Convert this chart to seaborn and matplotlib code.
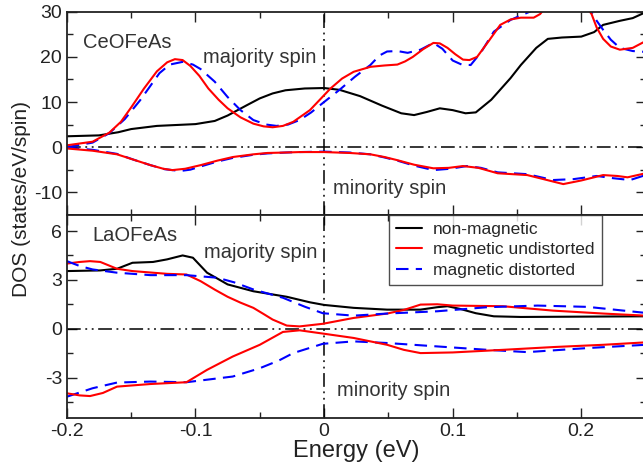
import matplotlib
matplotlib.use("Agg")
import matplotlib.pyplot as plt
from matplotlib.ticker import MultipleLocator, FuncFormatter
import seaborn as sns

# --------------------------------------------------------------------------- #
# Data (energy in eV, DOS in states/eV/spin)
# --------------------------------------------------------------------------- #
# CeOFeAs, majority spin
ce_nm_up_e = [-0.20, -0.175, -0.16, -0.15, -0.13, -0.10, -0.085, -0.075, -0.06, -0.05, -0.04,
              -0.03, -0.015, 0.0, 0.012, 0.028, 0.045, 0.06, 0.07, 0.08, 0.09, 0.10, 0.11,
              0.118, 0.13, 0.145, 0.153, 0.165, 0.174, 0.185, 0.20, 0.21, 0.217, 0.23, 0.24, 0.25]
ce_nm_up = [2.4, 2.6, 3.3, 4.0, 4.7, 5.1, 5.8, 7.0, 9.3, 10.8, 11.9,
            12.6, 13.0, 13.1, 12.7, 11.3, 9.2, 7.5, 7.1, 7.8, 8.6, 8.2, 7.5,
            7.7, 10.5, 15.3, 18.2, 22.0, 24.0, 24.3, 24.5, 25.5, 27.1, 28.0, 28.6, 29.9]

ce_mu_up_e = [-0.20, -0.18, -0.167, -0.158, -0.15, -0.14, -0.13, -0.122, -0.116, -0.11, -0.104,
              -0.097, -0.09, -0.082, -0.075, -0.065, -0.055, -0.047, -0.04, -0.032, -0.024,
              -0.011, 0.0, 0.005, 0.014, 0.023, 0.036, 0.047, 0.057, 0.063, 0.069, 0.077,
              0.085, 0.09, 0.096, 0.102, 0.108, 0.113, 0.119, 0.128, 0.137, 0.145, 0.153,
              0.163, 0.168, 0.175, 0.19, 0.203, 0.208, 0.212, 0.217, 0.223, 0.23, 0.24, 0.25]
ce_mu_up = [0.4, 1.2, 3.2, 5.6, 8.8, 13.0, 16.8, 18.8, 19.5, 19.3, 18.0,
            15.8, 13.0, 10.5, 8.6, 6.6, 5.2, 4.6, 4.4, 4.7, 5.6,
            8.2, 11.5, 13.0, 15.2, 16.7, 17.8, 18.1, 18.3, 19.0, 20.0, 21.7,
            23.1, 23.0, 22.0, 20.6, 19.4, 19.3, 20.0, 23.5, 27.1, 28.3, 28.7,
            28.7, 29.5, 32.0, 33.0, 31.5, 29.5, 26.5, 24.0, 22.3, 21.6, 22.0, 23.5]

ce_md_up_e = [-0.20, -0.18, -0.167, -0.155, -0.143, -0.135, -0.128, -0.12, -0.11, -0.102,
              -0.096, -0.085, -0.075, -0.065, -0.055, -0.045, -0.037, -0.028, -0.019, -0.01,
              0.0, 0.012, 0.024, 0.036, 0.043, 0.049, 0.057, 0.065, 0.075, 0.085, 0.092,
              0.10, 0.107, 0.114, 0.122, 0.132, 0.145, 0.163, 0.185, 0.207, 0.212, 0.217,
              0.223, 0.23, 0.24, 0.25]
ce_md_up = [0.0, 1.0, 3.1, 6.2, 10.4, 13.6, 16.4, 18.3, 18.9, 18.3,
            17.3, 14.5, 11.1, 8.2, 6.0, 5.0, 4.7, 5.0, 6.0, 7.7,
            10.0, 12.7, 15.6, 18.2, 20.3, 21.2, 21.3, 20.9, 21.6, 23.1, 21.8,
            19.2, 18.3, 18.2, 21.0, 25.6, 28.2, 30.4, 32.0, 30.4, 28.0, 26.0,
            23.8, 22.0, 21.3, 21.1]

# CeOFeAs, minority spin
ce_mu_dn_e = [-0.20, -0.18, -0.161, -0.148, -0.135, -0.125, -0.118, -0.108, -0.096, -0.083,
              -0.071, -0.055, -0.044, -0.03, -0.019, 0.0, 0.02, 0.036, 0.047, 0.057, 0.07,
              0.085, 0.097, 0.108, 0.12, 0.135, 0.158, 0.172, 0.186, 0.2, 0.217, 0.228,
              0.236, 0.25]
ce_mu_dn = [-0.3, -0.8, -1.6, -2.8, -4.0, -4.8, -5.1, -4.8, -4.0, -3.0,
            -2.2, -1.6, -1.3, -1.2, -1.1, -1.1, -1.3, -1.6, -2.2, -2.9, -3.9,
            -4.7, -4.6, -4.2, -4.6, -5.8, -6.2, -7.2, -8.2, -7.4, -6.2, -6.4,
            -6.7, -5.8]

ce_md_dn_e = [-0.20, -0.18, -0.161, -0.148, -0.135, -0.124, -0.112, -0.104, -0.096, -0.083,
              -0.071, -0.055, -0.044, -0.03, -0.019, 0.0, 0.02, 0.036, 0.047, 0.057, 0.07,
              0.085, 0.098, 0.111, 0.122, 0.135, 0.158, 0.178, 0.194, 0.212, 0.225, 0.238,
              0.25]
ce_md_dn = [-0.1, -0.6, -1.5, -2.8, -4.0, -4.9, -5.3, -5.0, -4.3, -3.2,
            -2.4, -1.7, -1.4, -1.2, -1.1, -1.0, -1.2, -1.6, -2.3, -3.0, -4.1,
            -5.1, -4.8, -4.2, -4.6, -5.6, -6.0, -7.3, -7.1, -6.4, -6.9, -7.3,
            -6.2]

# LaOFeAs, majority spin
la_nm_up_e = [-0.20, -0.174, -0.161, -0.149, -0.133, -0.122, -0.11, -0.102, -0.091, -0.075,
              -0.055, -0.029, -0.011, 0.0, 0.023, 0.049, 0.075, 0.088, 0.096, 0.106, 0.118,
              0.132, 0.153, 0.20, 0.25]
la_nm_up = [3.54, 3.58, 3.68, 4.05, 4.1, 4.26, 4.5, 4.36, 3.44, 2.72,
            2.3, 1.96, 1.62, 1.46, 1.28, 1.17, 1.17, 1.32, 1.38, 1.21, 0.95,
            0.76, 0.72, 0.74, 0.76]

la_mu_up_e = [-0.20, -0.19, -0.182, -0.174, -0.161, -0.149, -0.122, -0.107, -0.096, -0.085,
              -0.075, -0.065, -0.055, -0.047, -0.04, -0.029, -0.019, -0.001, 0.023, 0.049,
              0.062, 0.075, 0.088, 0.10, 0.139, 0.178, 0.217, 0.25]
la_mu_up = [4.0, 4.1, 4.15, 4.1, 3.68, 3.54, 3.37, 3.33, 2.92, 2.4,
            1.96, 1.6, 1.28, 0.9, 0.56, 0.19, 0.14, 0.3, 0.66, 0.93,
            1.15, 1.48, 1.5, 1.42, 1.38, 1.11, 0.93, 0.80]

la_md_up_e = [-0.20, -0.19, -0.180, -0.161, -0.135, -0.107, -0.083, -0.07, -0.055, -0.032,
              -0.015, -0.001, 0.023, 0.049, 0.088, 0.127, 0.166, 0.205, 0.25]
la_md_up = [4.15, 3.85, 3.64, 3.44, 3.29, 3.29, 3.13, 2.85, 2.41, 1.9,
            1.35, 0.95, 0.8, 0.93, 1.07, 1.32, 1.42, 1.34, 0.97]

# LaOFeAs, minority spin
la_mu_dn_e = [-0.20, -0.19, -0.182, -0.172, -0.161, -0.135, -0.107, -0.091, -0.071, -0.05,
              -0.032, -0.019, -0.001, 0.023, 0.049, 0.062, 0.075, 0.10, 0.139, 0.178, 0.217, 0.25]
la_mu_dn = [-3.97, -4.1, -4.14, -3.95, -3.56, -3.4, -3.29, -2.53, -1.71, -0.99,
            -0.2, -0.1, -0.3, -0.57, -0.99, -1.3, -1.5, -1.46, -1.3, -1.13, -0.99, -0.84]

la_md_dn_e = [-0.20, -0.180, -0.161, -0.135, -0.107, -0.071, -0.05, -0.035, -0.024, -0.001,
              0.023, 0.049, 0.088, 0.127, 0.158, 0.205, 0.25]
la_md_dn = [-4.18, -3.66, -3.31, -3.25, -3.29, -2.94, -2.43, -1.95, -1.5, -0.93,
            -0.78, -0.88, -1.09, -1.3, -1.44, -1.19, -0.99]

labels = ["non-magnetic", "magnetic undistorted", "magnetic distorted"]
colors = ["black", "red", "blue"]

# --------------------------------------------------------------------------- #
# Figure
# --------------------------------------------------------------------------- #
sns.set_style("ticks")
plt.rcParams["font.family"] = ["Liberation Sans", "DejaVu Sans"]
plt.rcParams["axes.unicode_minus"] = False

fig = plt.figure(figsize=(6.43, 4.72), dpi=100)
ax_top = fig.add_axes([0.104, 0.545, 0.900, 0.430])
ax_bot = fig.add_axes([0.104, 0.114, 0.900, 0.431])

dashdotdot = (0, (9, 3, 1.2, 3, 1.2, 3))


def draw(ax, e, y, idx, label=None):
    ls = "--" if idx == 2 else "-"
    sns.lineplot(x=e, y=y, ax=ax, color=colors[idx], lw=1.5, linestyle=ls,
                 estimator=None, sort=False, label=label)
    if idx == 2:
        ax.lines[-1].set_dashes((6, 3.5))


draw(ax_top, ce_nm_up_e, ce_nm_up, 0)
draw(ax_top, ce_md_up_e, ce_md_up, 2)
draw(ax_top, ce_mu_up_e, ce_mu_up, 1)
draw(ax_top, ce_md_dn_e, ce_md_dn, 2)
draw(ax_top, ce_mu_dn_e, ce_mu_dn, 1)

draw(ax_bot, la_nm_up_e, la_nm_up, 0, labels[0])
draw(ax_bot, la_mu_up_e, la_mu_up, 1, labels[1])
draw(ax_bot, la_md_up_e, la_md_up, 2, labels[2])
draw(ax_bot, la_md_dn_e, la_md_dn, 2)
draw(ax_bot, la_mu_dn_e, la_mu_dn, 1)

fmt = FuncFormatter(lambda v, p: "%g" % round(v, 3))
for ax in (ax_top, ax_bot):
    ax.axhline(0, color="black", lw=1.1, ls=dashdotdot, zorder=1)
    ax.axvline(0, color="black", lw=1.1, ls=dashdotdot, zorder=1)
    ax.set_xlim(-0.2, 0.25)
    ax.xaxis.set_major_locator(MultipleLocator(0.1))
    ax.xaxis.set_minor_locator(MultipleLocator(0.05))
    ax.xaxis.set_major_formatter(fmt)
    ax.yaxis.set_major_formatter(fmt)
    ax.tick_params(which="both", direction="in", top=True, right=True,
                   labelsize=14, colors="#222222", width=1.0)
    ax.tick_params(which="major", length=7)
    ax.tick_params(which="minor", length=4)
    for s in ax.spines.values():
        s.set_linewidth(1.3)
        s.set_color("#222222")
    ax.set_xlabel("")
    ax.set_ylabel("")

ax_top.set_ylim(-15, 30)
ax_top.yaxis.set_major_locator(MultipleLocator(10))
ax_top.yaxis.set_minor_locator(MultipleLocator(5))
ax_top.tick_params(labelbottom=False)

ax_bot.set_ylim(-5.5, 7)
ax_bot.yaxis.set_major_locator(MultipleLocator(3))
ax_bot.yaxis.set_minor_locator(MultipleLocator(1.5))
ax_bot.set_xlabel("Energy (eV)", fontsize=17, color="#222222", labelpad=0)

tc = "#333333"
ax_top.text(-0.1875, 23.3, "CeOFeAs", fontsize=14.5, color=tc, va="center")
ax_top.text(-0.094, 19.8, "majority spin", fontsize=14.5, color=tc, va="center")
ax_top.text(0.007, -9.1, "minority spin", fontsize=14.5, color=tc, va="center")
ax_bot.text(-0.18, 5.7, "LaOFeAs", fontsize=14.5, color=tc, va="center")
ax_bot.text(-0.093, 4.7, "majority spin", fontsize=14.5, color=tc, va="center")
ax_bot.text(0.01, -3.8, "minority spin", fontsize=14.5, color=tc, va="center")

leg = ax_bot.legend(loc="upper right", bbox_to_anchor=(0.924, 1.0), borderaxespad=0,
                    fontsize=12.5, frameon=True, fancybox=False, handlelength=1.5,
                    handletextpad=0.65, borderpad=0.4, labelspacing=0.3)
leg.get_frame().set_edgecolor("#222222")
leg.get_frame().set_linewidth(1.0)

fig.text(0.034, 0.578, "DOS (states/eV/spin)", rotation=90, fontsize=15,
         color="#222222", ha="center", va="center")

fig.savefig("out.png", dpi=100)
